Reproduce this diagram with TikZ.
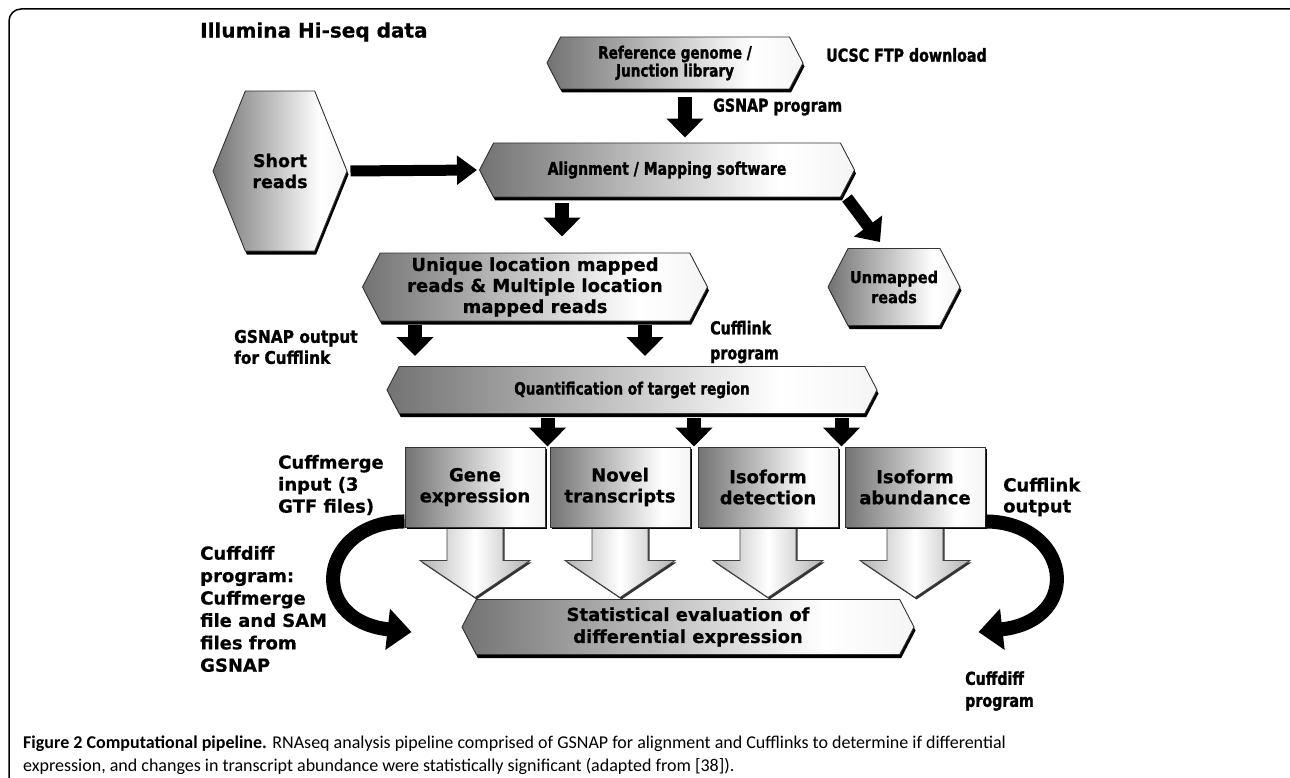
\documentclass[tikz,border=0pt]{standalone}
\usepackage{fontspec}
\newfontfamily\dv{DejaVu Sans}[FakeBold=0.6]
\newfontfamily\dvc{DejaVu Sans}[FakeStretch=0.8, FakeBold=1.4]
\newfontfamily\dvm{DejaVu Sans}[FakeStretch=0.88, FakeBold=1.0]
\newfontfamily\capfont{Carlito}
\newcommand\fsz[2]{\fontsize{#1}{#2}\selectfont}
\usetikzlibrary{shapes.symbols,shadows,calc,arrows.meta}
\pgfdeclarehorizontalshading{metal}{100bp}{color(0bp)=(black!70); color(25bp)=(black!55); color(65bp)=(white); color(85bp)=(black!8); color(100bp)=(black!50)}
\pgfdeclarehorizontalshading{tube}{100bp}{color(0bp)=(black!60); color(50bp)=(white); color(100bp)=(black!60)}
\pgfdeclarelayer{bg}
\pgfsetlayers{bg,main}
\tikzset{
  banner/.style={signal, signal to=west and east, signal pointer angle=125,
    draw=black!80, line width=0.9pt, shade, shading=metal,
    general shadow={fill=black, shadow xshift=1.5pt, shadow yshift=-3.5pt},
    align=center, inner sep=0pt},
  outbox/.style={rectangle, draw=black!80, line width=0.9pt, shade, shading=metal,
    general shadow={fill=black, shadow xshift=2pt, shadow yshift=-2pt},
    minimum width=140pt, minimum height=80pt,
    font=\dv\bfseries\fsz{18}{21}, align=center, inner sep=0pt},
  tubearrow/.style={draw=black!75, line width=0.8pt, shade, shading=tube,
    general shadow={fill=black!80, shadow xshift=1.5pt, shadow yshift=-2pt}},
  lbl/.style={align=left, anchor=west, inner sep=0pt},
  blk/.style={draw=black, line width=14pt, -{Triangle[length=19pt,width=36pt]}},
  thinblk/.style={draw=black, line width=11pt, -{Triangle[length=20pt,width=28pt]}},
  curv/.style={draw=black, line width=14pt, -{Triangle[length=24pt,width=40pt]}},
  captxt/.style={font=\capfont\fsz{18}{23}, anchor=base west, inner sep=0pt}
}
\begin{document}
\begin{tikzpicture}[x=1pt,y=-1pt]
\useasboundingbox (0,0) rectangle (1290,778);
% frame
\draw[line width=1.5pt, rounded corners=12pt] (9,778) -- (9,9) -- (1290,9);

% boxes
\node[banner, font=\dvc\bfseries\fsz{17}{18}, minimum width=256pt, minimum height=52pt] (ref) at (675,63) {Reference genome /\\Junction library};
\node[banner, font=\dvc\bfseries\fsz{17.5}{20}, minimum width=375pt, minimum height=54pt] (align) at (667,170) {Alignment / Mapping software};
\node[banner, font=\dv\bfseries\fsz{17.5}{21}, signal pointer angle=136, minimum width=134pt, minimum height=160pt] (short) at (280,171) {Short\\reads};
\node[banner, font=\dv\bfseries\fsz{18}{21}, minimum width=345pt, minimum height=68pt] (uniq) at (535,287) {Unique location mapped\\reads \& Multiple location\\mapped reads};
\node[banner, font=\dvm\bfseries\fsz{16.5}{20}, minimum width=132pt, minimum height=77pt] (unmapped) at (894,287) {Unmapped\\reads};
\node[banner, font=\dvc\bfseries\fsz{17}{20}, minimum width=490pt, minimum height=47pt] (quant) at (632,390) {Quantification of target region};
\node[banner, font=\dv\bfseries\fsz{18}{22}, minimum width=452pt, minimum height=55pt] (stat) at (688,627) {Statistical evaluation of\\differential expression};

\node[outbox] (gene) at (475,487) {Gene\\expression};
\node[outbox] (novel) at (620,487) {Novel\\transcripts};
\node[outbox] (isodet) at (768,487) {Isoform\\detection};
\node[outbox] (isoab) at (915,487) {Isoform\\abundance};

\begin{pgfonlayer}{bg}
\foreach \n in {gene,novel,isodet,isoab}{
  \path[tubearrow] ($(\n.south)+(-28,-2)$) -- ($(\n.south)+(-28,33)$) -- ($(\n.south)+(-55,33)$)
     -- ($(\n.south)+(0,70)$) -- ($(\n.south)+(55,33)$) -- ($(\n.south)+(28,33)$)
     -- ($(\n.south)+(28,-2)$) -- cycle;
}
\end{pgfonlayer}

% labels
\node[lbl, font=\dv\bfseries\fsz{20}{24}] (illumina) at (200,32) {Illumina Hi-seq data};
\node[lbl, font=\dvc\bfseries\fsz{17.8}{22}] (ucsc) at (826,55) {UCSC FTP download};
\node[lbl, font=\dvc\bfseries\fsz{17.8}{22}] (gsnapprog) at (713,107) {GSNAP program};
\node[lbl, font=\dvm\bfseries\fsz{17.5}{21}] (gsnapout) at (234,347) {GSNAP output\\for Cufflink};
\node[lbl, font=\dvc\bfseries\fsz{17.8}{25}] (cuffprog) at (710,342) {Cufflink\\program};
\node[lbl, font=\dv\bfseries\fsz{18}{22}] (cuffmerge) at (278,485) {Cuffmerge\\input (3\\GTF files)};
\node[lbl, font=\dv\bfseries\fsz{18}{21}] (cuffout) at (1003,497) {Cufflink\\output};
\node[lbl, font=\dv\bfseries\fsz{18}{22.4}] (cuffdiffl) at (200,609) {Cuffdiff\\program:\\Cuffmerge\\file and SAM\\files from\\GSNAP};
\node[lbl, font=\dvc\bfseries\fsz{17.8}{22}] (cuffdiffr) at (965,691) {Cuffdiff\\program};

% connectors
\draw[blk, shorten <=8pt, shorten >=5pt] ([xshift=10pt]ref.south) -- ([xshift=10pt]ref.south |- align.north);
\draw[thinblk, shorten <=3pt, shorten >=2pt] (short.east) -- (align.west);
\draw[blk, shorten <=6pt, shorten >=16pt] ([xshift=-105pt]align.south) -- ([xshift=-105pt]align.south |- uniq.north);
\draw[thinblk, line width=12pt, -{Triangle[length=20pt,width=34pt]}] ($(align.east)+(-8,28)$) -- ($(unmapped.north)+(-14,-6)$);
\draw[blk, shorten <=4pt, shorten >=10pt] ([xshift=-120pt]uniq.south) -- ([xshift=-120pt]uniq.south |- quant.north);
\draw[blk, shorten <=4pt, shorten >=10pt] ([xshift=110pt]uniq.south) -- ([xshift=110pt]uniq.south |- quant.north);
\coordinate (g1) at ($(gene.north east)!0.5!(novel.north west)$);
\coordinate (g2) at ($(novel.north east)!0.5!(isodet.north west)$);
\coordinate (g3) at ($(isodet.north east)!0.5!(isoab.north west)$);
\foreach \g in {g1,g2,g3}{
  \draw[blk, shorten <=4pt] (\g |- quant.south) -- (\g);
}
\draw[curv] ($(gene.south west)+(0,-6)$) .. controls (320,522) and (305,620) .. ($(stat.west)+(-50,5)$);
\draw[curv] ($(isoab.south east)+(0,-6)$) .. controls (1070,522) and (1085,620) .. ($(stat.east)+(64,5)$);

% caption
\node[captxt] (cap1) at (23,748) {\textbf{Figure 2 Computational pipeline.} RNAseq analysis pipeline comprised of GSNAP for alignment and Cufflinks to determine if differential};
\node[captxt] (cap2) at (23,771) {expression, and changes in transcript abundance were statistically significant (adapted from [38]).};
\end{tikzpicture}
\end{document}
